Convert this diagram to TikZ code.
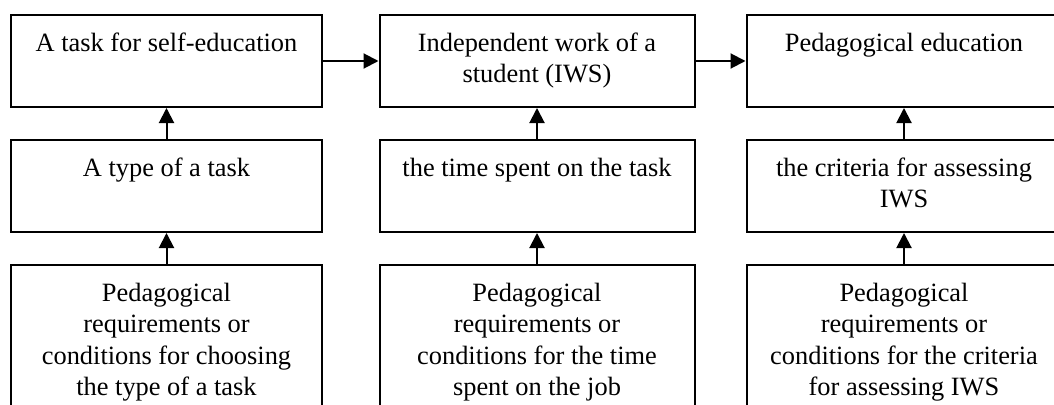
\documentclass[tikz,border=0pt]{standalone}
\usepackage{fontspec}
\setmainfont{Liberation Serif}
\usetikzlibrary{arrows.meta, positioning}
\newcommand{\boxtext}[2]{\parbox[t][#1][t]{300pt}{\centering\strut #2}}

\begin{document}
\begin{tikzpicture}[
    x=1pt, y=-1pt,
    box/.style={draw=black, line width=2pt, minimum width=311pt, minimum height=92pt, inner sep=0pt, anchor=north, font={\fontsize{26.4pt}{31.5pt}\selectfont}},
    wide/.style={minimum width=315pt},
    tall/.style={minimum height=150pt},
    flow/.style={-{Triangle[length=15pt, width=15pt]}, line width=2pt},
]
\useasboundingbox (0,0) rectangle (1054,404);
\clip (0,0) rectangle (1054,404);

% Top row
\node[box] (task) at (166.5,14) {\boxtext{64pt}{A task for self-education}};
\node[box, wide] (iws) at (537,14) {\boxtext{64pt}{Independent work of a\\ student (IWS)}};
\node[box, wide] (pedu) at (904,14) {\boxtext{64pt}{Pedagogical education}};

% Middle row
\node[box] (ttype) at (166.5,139) {\boxtext{64pt}{A type of a task}};
\node[box, wide] (ttime) at (537,139) {\boxtext{64pt}{the time spent on the task}};
\node[box, wide] (tcrit) at (904,139) {\boxtext{64pt}{the criteria for assessing\\ IWS}};

% Bottom row
\node[box, tall] (rtype) at (166.5,264) {\boxtext{122pt}{Pedagogical\\ requirements or\\ conditions for choosing\\ the type of a task}};
\node[box, wide, tall] (rtime) at (537,264) {\boxtext{122pt}{Pedagogical\\ requirements or\\ conditions for the time\\ spent on the job}};
\node[box, wide, tall] (rcrit) at (904,264) {\boxtext{122pt}{Pedagogical\\ requirements or\\ conditions for the criteria\\ for assessing IWS}};

% Arrows
\draw[flow] (task) -- (iws);
\draw[flow] (iws) -- (pedu);
\foreach \a/\b/\c in {rtype/ttype/task, rtime/ttime/iws, rcrit/tcrit/pedu} {
    \draw[flow] (\a) -- (\b);
    \draw[flow] (\b) -- (\c);
}

\end{tikzpicture}
\end{document}
